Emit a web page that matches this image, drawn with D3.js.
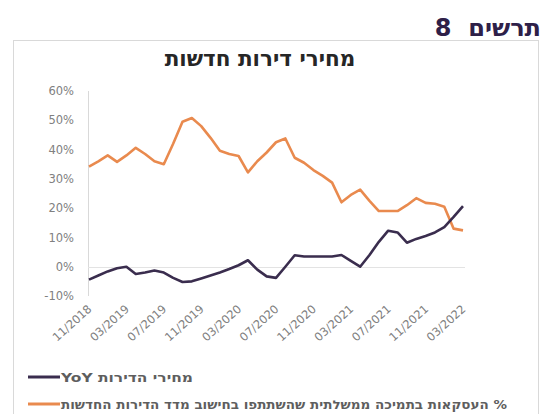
<!DOCTYPE html>
<html lang="he">
<head>
<meta charset="utf-8">
<script src="https://cdn.jsdelivr.net/npm/d3@7"></script>
<style>
  html, body { margin: 0; padding: 0; background: #fff; }
  svg { display: block; font-family: "DejaVu Sans", "Liberation Sans", sans-serif; }
</style>
</head>
<body>
<svg id="chart" width="546" height="414"></svg>
<script>
// Monthly categories, 11/2018 – 03/2022
const months = [
  "11/2018","12/2018","01/2019","02/2019","03/2019","04/2019","05/2019","06/2019",
  "07/2019","08/2019","09/2019","10/2019","11/2019","12/2019","01/2020","02/2020",
  "03/2020","04/2020","05/2020","06/2020","07/2020","08/2020","09/2020","10/2020",
  "11/2020","12/2020","01/2021","02/2021","03/2021","04/2021","05/2021","06/2021",
  "07/2021","08/2021","09/2021","10/2021","11/2021","12/2021","01/2022","02/2022",
  "03/2022"
];

// New-apartment price index, year over year (%)
const priceYoY = [
  -4.4, -3.0, -1.6, -0.5, 0.0, -2.5, -2.0, -1.3, -2.0, -3.8,
  -5.2, -5.0, -4.0, -3.0, -2.0, -0.8, 0.5, 2.2, -1.0, -3.3,
  -3.8, 0.0, 3.9, 3.5, 3.5, 3.5, 3.5, 4.0, 2.0, 0.0,
  4.0, 8.5, 12.3, 11.7, 8.2, 9.5, 10.5, 11.7, 13.5, 17.0,
  20.7
];

// Share of government-supported deals in the new-apartment index (%)
const subsidizedShare = [
  34.2, 36.0, 38.0, 35.8, 38.0, 40.6, 38.5, 36.0, 35.0, 42.0,
  49.5, 50.8, 48.0, 44.0, 39.6, 38.5, 37.8, 32.2, 36.0, 39.0,
  42.5, 43.8, 37.2, 35.5, 33.0, 31.0, 28.7, 22.0, 24.5, 26.3,
  22.5, 19.0, 19.0, 19.0, 21.0, 23.4, 21.8, 21.5, 20.5, 13.0,
  12.4
];

const yTicks = [-10, 0, 10, 20, 30, 40, 50, 60];
const xTickLabels = months.filter((m, i) => i % 4 === 0);

const seriesNames = [
  "מחירי הדירות YoY",
  "% העסקאות בתמיכה ממשלתית שהשתתפו בחישוב מדד הדירות החדשות"
];
const seriesColors = ["#3a2d4e", "#e98a4e"];

const svg = d3.select("#chart");

// Page heading
svg.append("text")
  .attr("x", 541).attr("y", 36)
  .attr("direction", "rtl")
  .attr("text-anchor", "start")
  .style("font-family", "'DejaVu Sans', sans-serif")
  .style("font-weight", "bold")
  .style("font-size", "24px")
  .style("white-space", "pre")
  .attr("fill", "#2e2048")
  .text("תרשים  8");

// Chart frame
svg.append("rect")
  .attr("x", 13.5).attr("y", 40.5)
  .attr("width", 525).attr("height", 390)
  .attr("fill", "#fff")
  .attr("stroke", "#d9d9d9");

// Chart title
svg.append("text")
  .attr("x", 260).attr("y", 66)
  .attr("text-anchor", "middle")
  .attr("direction", "rtl")
  .style("font-weight", "bold")
  .style("font-size", "21.5px")
  .attr("fill", "#262626")
  .text("מחירי דירות חדשות");

const x = d3.scalePoint().domain(months).range([89, 463]);
const y = d3.scaleLinear().domain([-10, 60]).range([296, 91]);

// Vertical axis line
svg.append("line")
  .attr("x1", 88.5).attr("x2", 88.5)
  .attr("y1", y(60)).attr("y2", y(-10))
  .attr("stroke", "#d9d9d9");

// Horizontal axis at 0%
svg.append("line")
  .attr("x1", 88).attr("x2", 465)
  .attr("y1", Math.round(y(0)) + 0.5).attr("y2", Math.round(y(0)) + 0.5)
  .attr("stroke", "#e3e3e3");

// Y axis labels
const yAxis = svg.append("g")
  .attr("transform", "translate(74,0)")
  .call(d3.axisLeft(y).tickValues(yTicks).tickSize(0).tickPadding(0)
    .tickFormat(d => d + "%"));
yAxis.select(".domain").remove();
yAxis.selectAll("text")
  .style("font-family", "'DejaVu Sans', sans-serif")
  .style("font-size", "11.5px")
  .attr("fill", "#808080");

// X axis labels, rotated
const xAxis = svg.append("g")
  .attr("transform", "translate(0,306)")
  .call(d3.axisBottom(x).tickValues(xTickLabels).tickSize(0).tickPadding(0));
xAxis.select(".domain").remove();
xAxis.selectAll("text")
  .attr("y", 0).attr("dy", 0)
  .attr("text-anchor", "end")
  .attr("transform", "translate(3,4) rotate(-42)")
  .style("font-family", "'DejaVu Sans', sans-serif")
  .style("font-size", "11.5px")
  .attr("fill", "#808080");

// Lines
const line = d3.line()
  .x((d, i) => x(months[i]))
  .y(d => y(d));

[subsidizedShare, priceYoY].forEach((vals, k) => {
  svg.append("path")
    .datum(vals)
    .attr("fill", "none")
    .attr("stroke", k === 0 ? seriesColors[1] : seriesColors[0])
    .attr("stroke-width", 2.6)
    .attr("stroke-linejoin", "round")
    .attr("d", line);
});

// Legend
const legendRows = [377, 404];
const legendWidths = [132, 446];
seriesNames.forEach((name, k) => {
  const ly = legendRows[k];
  svg.append("line")
    .attr("x1", 28).attr("x2", 60)
    .attr("y1", ly).attr("y2", ly)
    .attr("stroke", seriesColors[k])
    .attr("stroke-width", 3);
  svg.append("text")
    .attr("x", 61).attr("y", ly + 4.5)
    .attr("direction", "rtl")
    .attr("text-anchor", "end")
    .attr("textLength", legendWidths[k])
    .attr("lengthAdjust", "spacingAndGlyphs")
    .style("font-weight", "bold")
    .style("font-size", "12px")
    .attr("fill", "#5e5e5e")
    .text(name);
});
</script>
</body>
</html>
